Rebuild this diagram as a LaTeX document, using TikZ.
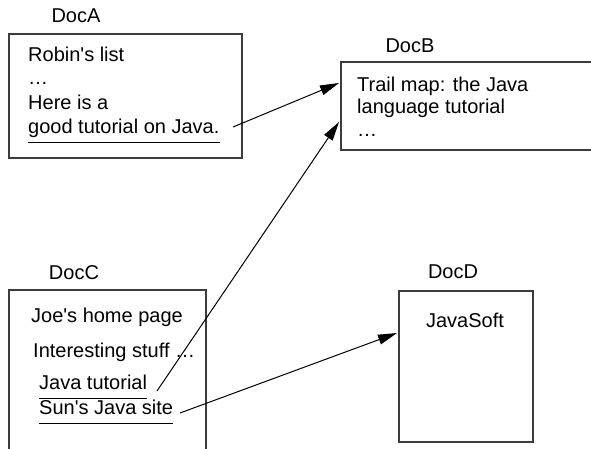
\documentclass[tikz,border=0pt]{standalone}
\usepackage{fontspec}
\setmainfont{Liberation Sans}
\usetikzlibrary{arrows.meta}
\definecolor{boxline}{HTML}{3C3C3C}
\newcommand{\apos}{\textquotesingle}
\tikzset{
  doc/.style={draw=boxline, line width=1.6pt, rectangle, inner sep=0pt, anchor=north west},
  txt/.style={inner sep=0pt, anchor=base west, font=\fontsize{20}{23}\selectfont},
  ctxt/.style={inner sep=0pt, anchor=base, font=\fontsize{20}{23}\selectfont},
  uline/.style={line width=1pt},
  link/.style={line width=1pt, -{Triangle[length=19pt,width=10pt]}},
}
\begin{document}
\begin{tikzpicture}[x=1pt, y=-1pt]
\useasboundingbox (0,0) rectangle (591,449);
\clip (0,0) rectangle (591,449);

% document boxes
\node[doc, minimum width=233pt, minimum height=124pt] (docA) at (8,33) {};
\node[doc, minimum width=280pt, minimum height=88pt] (docB) at (340,61) {};
\node[doc, minimum width=197pt, minimum height=180pt] (docC) at (8,289) {};
\node[doc, minimum width=134pt, minimum height=151pt] (docD) at (398,290) {};

% titles
\node[ctxt] (labA) at (76,23) {DocA};
\node[ctxt] (labB) at (410,53) {DocB};
\node[ctxt] (labC) at (74,279) {DocC};
\node[ctxt] (labD) at (453,278) {DocD};

% DocA contents
\node[txt] (a1) at (28,62) {Robin\apos s list};
\node[txt] (a2) at (28,85) {…};
\node[txt] (a3) at (28,110) {Here is a};
\node[txt] (a4) at (28,134) {good tutorial on Java.};
\draw[uline] ([yshift=-9pt]a4.base west) -- ([yshift=-9pt]a4.base east);

% DocB contents
\node[txt] (b1) at (357,92) {Trail map: the Java};
\node[txt] (b2) at (357,114) {language tutorial};
\node[txt] (b3) at (357,137) {…};

% DocC contents
\node[ctxt] (c1) at (107,322) {Joe\apos s home page};
\node[txt] (c2) at (33,357) {Interesting stuff …};
\node[txt] (c3) at (39,389) {Java tutorial};
\node[txt] (c4) at (39,414) {Sun\apos s Java site};
\draw[uline] ([yshift=-9pt]c3.base west) -- ([yshift=-9pt]c3.base east);
\draw[uline] ([yshift=-9pt]c4.base west) -- ([yshift=-9pt]c4.base east);

% DocD contents
\node[ctxt] (d1) at (465,327) {JavaSoft};

% link anchors
\coordinate (srcA) at (233,127);
\coordinate (srcC1) at (157,391);
\coordinate (srcC2) at (180,413);
\coordinate (tgtB1) at (339,83);
\coordinate (tgtB2) at (339,122);
\coordinate (tgtD) at (397,333);

% hyperlinks
\draw[link] (srcA) -- (tgtB1);
\draw[link] (srcC1) -- (tgtB2);
\draw[link] (srcC2) -- (tgtD);
\end{tikzpicture}
\end{document}
